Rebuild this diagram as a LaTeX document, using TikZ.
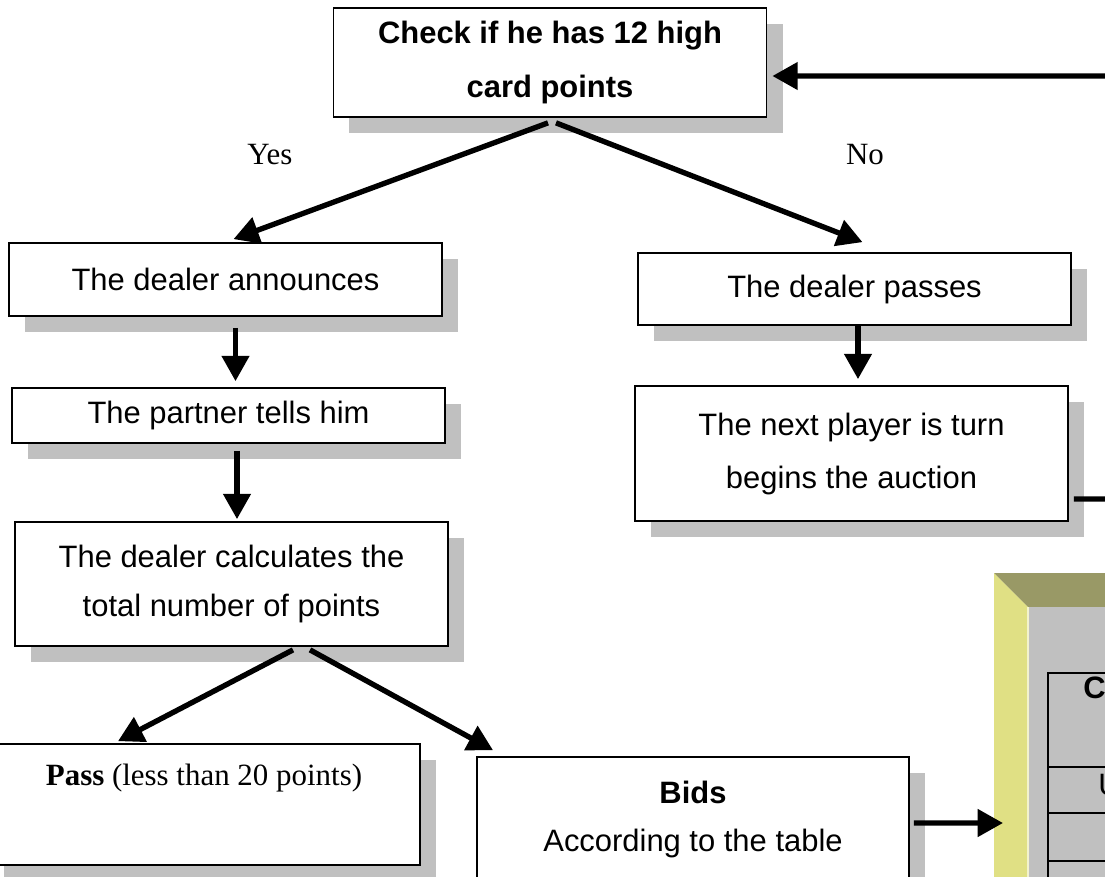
\documentclass[tikz,border=0pt]{standalone}
\usepackage{fontspec}
\setmainfont{Liberation Sans}
\newfontfamily\serifface{Liberation Serif}
\usetikzlibrary{arrows.meta,shadows}
\definecolor{shadegray}{RGB}{192,192,192}
\definecolor{paneyellow}{RGB}{224,224,132}
\definecolor{paneolive}{RGB}{153,153,102}
\newcommand{\bigtext}{\fontsize{22}{37}\selectfont}
\begin{document}
\begin{tikzpicture}[x=0.025cm, y=-0.025cm,
	flowbox/.style={draw, line width=1.2pt, fill=white, minimum width=10.825cm, inner sep=0pt,
		align=center, font=\bigtext,
		drop shadow={shadow xshift=0.4cm, shadow yshift=-0.4cm, fill=shadegray, opacity=1}},
	flowarrow/.style={line width=3.8pt, -{Triangle[length=18pt,width=19pt]}},
	answer/.style={font=\serifface\fontsize{22}{26}\selectfont}]
				\useasboundingbox (0,0) rectangle (1105,876);
				\clip (0,0) rectangle (1105,876);
				% question
				\node[flowbox, minimum height=2.725cm, font=\bfseries\fontsize{22}{39}\selectfont] (check) at (550,62.5) {Check if he has 12 high\\card points};
				\node[answer] (yes) at (270,155) {Yes};
				\node[answer] (no) at (865,155) {No};
				% yes branch
				\node[flowbox, minimum height=1.825cm] (announce) at (225.5,279.5) {The dealer announces};
				\node[flowbox, minimum height=1.375cm] (partner) at (228.5,415.5) {The partner tells him};
				\node[flowbox, minimum height=3.1cm, font=\fontsize{22}{35.5}\selectfont] (calc) at (231.5,584) {The dealer calculates the\\total number of points};
				% no branch
				\node[flowbox, minimum height=1.8cm] (passes) at (854.5,289) {The dealer passes};
				\node[flowbox, minimum height=3.375cm, font=\fontsize{22}{37.7}\selectfont] (nextp) at (851.5,453.5) {The next player is turn\\begins the auction};
				% outcomes
				\node[flowbox, minimum width=10.8cm, minimum height=3.025cm, text depth=1.5cm, font=\serifface\fontsize{22}{26}\selectfont] (pass) at (204,804.5) {\textbf{Pass} (less than 20 points)};
				\node[flowbox, minimum width=10.8cm, minimum height=3.125cm, font=\fontsize{22}{34}\selectfont] (bids) at (693,819.5) {\textbf{Bids}\\According to the table};
				% table panel
				\fill[paneyellow] (994,573) -- (1028,607) -- (1028,880) -- (994,880) -- cycle;
				\fill[paneolive] (994,573) -- (1110,573) -- (1110,607) -- (1028,607) -- cycle;
				\fill[shadegray] (1028,607) rectangle (1110,880);
				\draw[white!60!paneyellow, line width=0.8pt] (1028,607) -- (1028,880);
				\draw[line width=1pt] (1110,673) -- (1048,673) -- (1048,880);
				\foreach \y in {767,813,861}
				\draw[line width=1pt] (1048,\y) -- (1110,\y);
				\node[anchor=west, inner sep=0pt, font=\bfseries\bigtext] (colhead) at (1083,688) {Co};
				\node[anchor=west, inner sep=0pt, font=\bigtext] (rowone) at (1098,785) {U};
				% connectors
				\coordinate (loopin) at (1110,76);
				\coordinate (loopout) at (1110,499);
				\coordinate (tablein) at (1003,823);
				\draw[flowarrow] ([shift={(-2,5)}]check.south) -- ([shift={(8,-3)}]announce.north);
				\draw[flowarrow] ([shift={(6,5)}]check.south) -- ([shift={(8,-10)}]passes.north);
				\draw[flowarrow] ([shift={(10,11)}]announce.south) -- ([shift={(7,-6)}]partner.north);
				\draw[flowarrow] ([shift={(8.5,7)}]partner.south) -- ([shift={(5.5,-2)}]calc.north);
				\draw[flowarrow] ([shift={(3.5,0)}]passes.south) -- ([shift={(6.5,-6)}]nextp.north);
				\draw[flowarrow] ([shift={(61.5,3)}]calc.south) -- ([shift={(-86,-2)}]pass.north);
				\draw[flowarrow] ([shift={(78.5,3)}]calc.south) -- ([shift={(-200,-6)}]bids.north);
				\draw[flowarrow] ([shift={(4,3.5)}]bids.east) -- (tablein);
				\draw[flowarrow] (loopin) -- ([shift={(5,13.5)}]check.east);
				\draw[line width=3.8pt] ([shift={(5,45.5)}]nextp.east) -- (loopout);
			\end{tikzpicture}
\end{document}
